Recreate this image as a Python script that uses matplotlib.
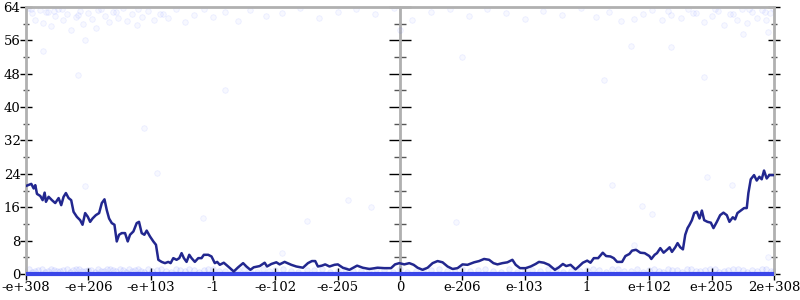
import matplotlib
matplotlib.use("Agg")
import matplotlib.pyplot as plt
from matplotlib.ticker import MultipleLocator

# x axis categories (evenly spaced ticks)
tick_labels = ['-e+308', '-e+206', '-e+103', '-1', '-e-102', '-e-205', '0',
               'e-206', 'e-103', '1', 'e+102', 'e+205', '2e+308']

# main line (x in tick units, y in bits)
line_x = [0.0, 0.085, 0.123, 0.149, 0.176, 0.229, 0.267, 0.299, 0.32, 0.363,
          0.416, 0.469, 0.523, 0.565, 0.603, 0.64, 0.683, 0.725, 0.763, 0.816,
          0.869, 0.907, 0.949, 0.992, 1.029, 1.067, 1.12, 1.173, 1.216, 1.259,
          1.296, 1.333, 1.376, 1.419, 1.456, 1.493, 1.536, 1.589, 1.632, 1.669,
          1.723, 1.776, 1.813, 1.856, 1.899, 1.936, 1.989, 2.043, 2.085, 2.123,
          2.176, 2.229, 2.283, 2.32, 2.363, 2.416, 2.459, 2.496, 2.533, 2.576,
          2.619, 2.656, 2.709, 2.763, 2.816, 2.853, 2.923, 2.976, 3.029, 3.067,
          3.109, 3.173, 3.243, 3.333, 3.403, 3.483, 3.536, 3.6, 3.653, 3.749,
          3.829, 3.867, 3.936, 4.016, 4.069, 4.149, 4.256, 4.336, 4.443, 4.523,
          4.587, 4.64, 4.683, 4.747, 4.8, 4.869, 4.949, 5.003, 5.083, 5.189,
          5.312, 5.403, 5.509, 5.643, 5.749, 5.856, 5.92, 5.989, 6.069, 6.149,
          6.219, 6.283, 6.363, 6.443, 6.523, 6.603, 6.683, 6.763, 6.843, 6.923,
          7.003, 7.083, 7.189, 7.269, 7.349, 7.429, 7.499, 7.563, 7.643, 7.723,
          7.803, 7.856, 7.925, 8.016, 8.096, 8.176, 8.229, 8.309, 8.389, 8.485,
          8.549, 8.613, 8.667, 8.736, 8.816, 8.869, 8.933, 9.003, 9.056, 9.109,
          9.179, 9.253, 9.307, 9.376, 9.429, 9.483, 9.563, 9.616, 9.68, 9.723,
          9.787, 9.856, 9.925, 10.0, 10.032, 10.085, 10.123, 10.176, 10.229, 10.283,
          10.325, 10.363, 10.416, 10.453, 10.496, 10.539, 10.576, 10.613,
          10.645, 10.683, 10.72, 10.763, 10.805, 10.843, 10.88, 10.933, 10.987,
          11.029, 11.083, 11.136, 11.189, 11.243, 11.285, 11.339, 11.376,
          11.413, 11.467, 11.52, 11.563, 11.589, 11.627, 11.68, 11.723, 11.765,
          11.803, 11.84, 11.883, 11.925, 12.0]
line_y = [21.1, 21.6, 20.5, 21.3, 19.2, 18.7, 17.7, 19.5, 17.3, 18.5,
          17.7, 17.0, 18.2, 16.5, 18.5, 19.4, 18.2, 17.7, 14.9, 13.7,
          12.9, 11.8, 14.6, 13.7, 12.5, 13.3, 14.1, 14.6, 17.0, 17.9,
          15.3, 13.3, 12.2, 11.8, 7.8, 9.4, 9.8, 9.8, 7.8, 9.4,
          10.2, 12.2, 12.5, 9.8, 9.4, 10.4, 9.0, 7.8, 7.0, 3.4,
          2.9, 2.6, 2.9, 2.6, 3.8, 3.4, 3.8, 5.0, 3.8, 2.9,
          4.6, 3.8, 2.9, 3.8, 3.8, 4.6, 4.6, 4.2, 2.6, 2.9,
          2.2, 2.7, 1.8, 0.6, 1.6, 2.6, 1.8, 1.0, 1.6, 1.9,
          2.7, 1.8, 2.4, 2.8, 2.3, 2.9, 2.2, 1.8, 1.5, 2.6,
          3.1, 3.1, 1.8, 2.0, 2.3, 1.8, 2.2, 2.3, 1.5, 1.0,
          2.0, 1.5, 1.2, 1.5, 1.4, 1.4, 2.3, 2.6, 2.3, 2.6,
          2.2, 1.5, 1.0, 1.5, 2.6, 3.1, 2.8, 1.8, 1.2, 1.4,
          2.3, 2.2, 2.8, 3.1, 3.6, 3.4, 2.6, 2.3, 2.6, 2.8,
          3.4, 2.2, 1.4, 1.4, 1.8, 2.4, 2.9, 2.7, 2.2, 1.0,
          1.6, 2.4, 1.9, 2.2, 1.1, 1.8, 2.7, 3.2, 2.7, 3.8,
          3.8, 5.1, 4.3, 4.2, 3.8, 2.9, 2.9, 4.3, 4.8, 5.6,
          5.8, 5.1, 5.0, 4.3, 3.6, 4.6, 5.0, 6.2, 5.1, 5.8,
          6.4, 5.3, 6.4, 7.4, 6.4, 5.9, 9.4, 11.0,
          11.8, 12.9, 14.6, 14.9, 13.3, 15.2, 12.9, 12.5, 12.3,
          11.0, 12.5, 14.1, 14.7, 14.1, 12.5, 13.6, 13.1,
          14.6, 15.2, 15.8, 15.8, 19.4, 22.7, 23.7, 22.4, 23.3,
          22.7, 24.8, 22.9, 23.7, 23.7]

# faint sample points near the top (high values)
top_x = [0.03, 0.1, 0.15, 0.22, 0.28, 0.35, 0.4, 0.47, 0.52, 0.6, 0.66, 0.72,
         0.8, 0.86, 0.92, 1.0, 1.06, 1.12, 1.2, 1.26, 1.33, 1.4, 1.47, 1.55,
         1.62, 1.7, 1.78, 1.86, 1.95, 2.05, 2.15, 2.28, 2.4, 2.55, 2.7, 2.85,
         3.0, 3.2, 3.4, 3.6, 3.85, 4.1, 4.4, 4.7, 5.0, 5.3, 5.6, 5.9, 6.2,
         6.5, 6.8, 7.1, 7.4, 7.7, 8.0, 8.3, 8.6, 8.9, 9.15, 9.35, 9.55, 9.75,
         9.9, 10.05, 10.2, 10.35, 10.5, 10.62, 10.75, 10.88, 11.0, 11.1, 11.2,
         11.3, 11.4, 11.48, 11.56, 11.64, 11.72, 11.8, 11.87, 11.93, 11.98,
         0.08, 0.32, 0.57, 0.84, 1.15, 1.45, 1.8, 2.2, 10.3, 10.7, 11.05,
         11.35, 11.6, 11.85, 0.45, 0.95, 11.5, 11.9]
top_y = [63.8, 62.5, 61.0, 63.2, 60.2, 62.8, 59.5, 61.8, 63.6, 60.8, 62.2,
         58.5, 61.5, 63.0, 60.0, 62.6, 61.2, 59.0, 63.4, 61.9, 60.5, 62.9,
         61.4, 63.7, 60.6, 62.3, 59.8, 61.7, 63.1, 60.9, 62.4, 61.3, 63.5,
         60.4, 62.0, 63.6, 61.6, 62.8, 60.7, 63.3, 61.9, 62.6, 63.8, 61.4,
         62.9, 63.5, 62.2, 63.7, 60.9, 62.7, 63.4, 61.8, 63.6, 62.5, 61.2,
         63.0, 62.1, 63.7, 61.5, 62.9, 60.6, 61.1, 62.4, 63.2, 60.8, 62.0,
         61.3, 63.5, 62.6, 60.5, 61.9, 63.1, 59.7, 62.3, 61.0, 63.6, 60.2,
         62.8, 61.4, 63.3, 60.9, 62.5, 63.8, 63.4, 62.9, 63.6, 62.1, 63.3,
         62.7, 63.5, 62.4, 63.1, 62.6, 63.4, 62.2, 63.6, 62.8, 63.0, 56.0,
         57.5, 58.0]

# sparse points in the middle of the range
mid_x = [0.95, 0.84, 2.1, 1.9, 2.84, 4.11, 4.5, 5.16, 5.54, 6.0, 6.9,
         7.0, 9.27, 9.4, 9.7, 9.75, 9.88, 10.04, 10.35, 10.87, 10.92, 11.32,
         11.91, 0.28, 3.2]
mid_y = [21.0, 47.7, 24.2, 35.0, 13.4, 5.0, 12.8, 17.7, 16.1, 58.5, 12.5,
         52.0, 46.5, 21.3, 54.7, 7.0, 16.3, 14.4, 54.5, 47.2, 23.2, 21.3,
         4.0, 53.5, 44.0]

# faint sample points near the bottom (low values)
low_x = [0.05, 0.15, 0.25, 0.35, 0.45, 0.55, 0.65, 0.75, 0.85, 0.95, 1.05,
         1.15, 1.25, 1.35, 1.45, 1.55, 1.65, 1.75, 1.85, 1.95, 2.1, 2.25, 2.4,
         2.55, 2.7, 2.85, 3.0, 3.2, 3.4, 3.6, 3.8, 4.0, 4.25, 4.5, 4.75, 5.0,
         5.25, 5.5, 5.75, 6.0, 6.25, 6.5, 6.75, 7.0, 7.25, 7.5, 7.75, 8.0,
         8.25, 8.5, 8.75, 9.0, 9.2, 9.4, 9.6, 9.8, 10.0, 10.15, 10.3, 10.45,
         10.6, 10.75, 10.9, 11.05, 11.2, 11.35, 11.5, 11.65, 11.8, 11.95,
         0.1, 0.2, 0.3, 0.4, 0.5, 0.6, 0.7, 0.8, 0.9, 1.0, 1.1, 1.2, 1.3,
         1.4, 1.5, 1.6, 1.7, 1.8, 1.9, 2.02, 2.17, 2.32, 2.47, 2.62, 2.78,
         2.92, 3.1, 3.3, 3.5, 3.7, 3.9, 4.12, 4.37, 4.62, 4.88, 5.12, 5.37,
         5.62, 5.88, 6.12, 6.37, 6.62, 6.88, 7.12, 7.37, 7.62, 7.88, 8.12,
         8.37, 8.62, 8.88, 9.1, 9.3, 9.5, 9.7, 9.9, 10.07, 10.22, 10.37,
         10.52, 10.67, 10.82, 10.97, 11.12, 11.27, 11.42, 11.57, 11.72,
         11.87, 11.98]
low_y = [1.1, 0.7, 1.2, 0.8, 1.0, 0.6, 1.2, 0.9, 1.1, 0.7, 1.0, 1.2, 0.8,
         1.1, 0.6, 1.0, 1.2, 0.9, 0.7, 1.1, 1.0, 0.8, 1.2, 0.7, 1.0, 0.9,
         1.1, 0.6, 1.0, 0.8, 1.2, 0.9, 0.7, 1.0, 1.1, 0.8, 0.6, 1.0, 0.9,
         1.1, 0.7, 1.0, 0.8, 1.2, 0.9, 0.7, 1.1, 1.0, 0.8, 1.2, 0.6, 1.0,
         0.9, 1.1, 0.8, 1.2, 1.0, 0.7, 1.1, 0.9, 1.2, 0.8, 1.0, 1.1, 0.7,
         1.2, 0.9, 1.0, 1.1, 0.8,
         0.5, 0.9, 0.4, 1.3, 0.6, 0.9, 0.5, 1.3, 0.6, 0.9, 0.5, 0.7, 1.3,
         0.9, 1.2, 0.5, 0.8, 1.3, 0.5, 0.6, 1.3, 0.5, 0.9, 1.3, 0.5, 1.2,
         0.8, 0.4, 1.2, 0.5, 0.6, 1.3, 0.5, 0.9, 0.4, 1.3, 0.6, 1.2, 0.5,
         0.4, 0.9, 1.3, 0.5, 0.6, 1.3, 0.4, 0.5, 0.9, 1.3, 0.5, 0.6, 1.2,
         0.4, 1.3, 0.6, 0.5, 1.3, 0.5, 0.9, 0.4, 1.2, 0.6, 1.3, 0.5, 0.9,
         1.3, 0.4, 0.6, 1.2, 0.5]

# points sitting on zero
zero_x = [0, 12]
zero_y = [0, 0]

fig = plt.figure(figsize=(8, 3), dpi=100)
ax = fig.add_axes([0.0325, 0.0867, 0.935, 0.89])

ax.set_xlim(0, 12)
ax.set_ylim(0, 64)

dot_face = (0.2, 0.3, 1.0, 0.04)
dot_edge = (0.2, 0.3, 1.0, 0.08)
ax.scatter(top_x, top_y, s=16, facecolor=dot_face, edgecolor=dot_edge, lw=0.6, zorder=2)
ax.scatter(mid_x, mid_y, s=16, facecolor=dot_face, edgecolor=dot_edge, lw=0.6, zorder=2)
ax.scatter(low_x, low_y, s=16, facecolor=(0.2, 0.3, 1.0, 0.07),
           edgecolor=(0.2, 0.3, 1.0, 0.1), lw=0.6, zorder=2)
ax.plot(zero_x, zero_y, color='#3a46e8', lw=3, solid_capstyle='butt', zorder=3, clip_on=False)

ax.plot(line_x, line_y, color='#22278f', lw=1.8, zorder=4)

# center divider
ax.axvline(6, color='#b0b0b0', lw=2, zorder=1)

for side in ['left', 'right', 'top', 'bottom']:
    ax.spines[side].set_color('#b0b0b0')
    ax.spines[side].set_linewidth(2)

ax.set_xticks(range(len(tick_labels)))
ax.set_xticklabels(tick_labels)
ax.yaxis.set_major_locator(MultipleLocator(8))
ax.yaxis.set_minor_locator(MultipleLocator(4))

ax.tick_params(axis='both', which='major', direction='inout', length=8,
               width=1, color='black', labelsize=9.5, pad=1)
ax.tick_params(axis='y', which='minor', direction='inout', length=5,
               width=1, color='#555555')
ax.tick_params(axis='y', which='both', right=True)
ax.tick_params(axis='y', which='major', pad=0)

for lab in ax.get_xticklabels() + ax.get_yticklabels():
    lab.set_family('DejaVu Serif')

# ticks on the center divider
mid_axis = ax.secondary_yaxis(0.5)
mid_axis.spines['left'].set_visible(False)
mid_axis.yaxis.set_major_locator(MultipleLocator(8))
mid_axis.yaxis.set_minor_locator(MultipleLocator(4))
mid_axis.tick_params(which='major', direction='inout', length=16, width=1,
                     color='black', labelleft=False)
mid_axis.tick_params(which='minor', direction='inout', length=8, width=1,
                     color='#555555')
mid_axis.set_yticklabels([])

fig.savefig('out.png', dpi=100)
